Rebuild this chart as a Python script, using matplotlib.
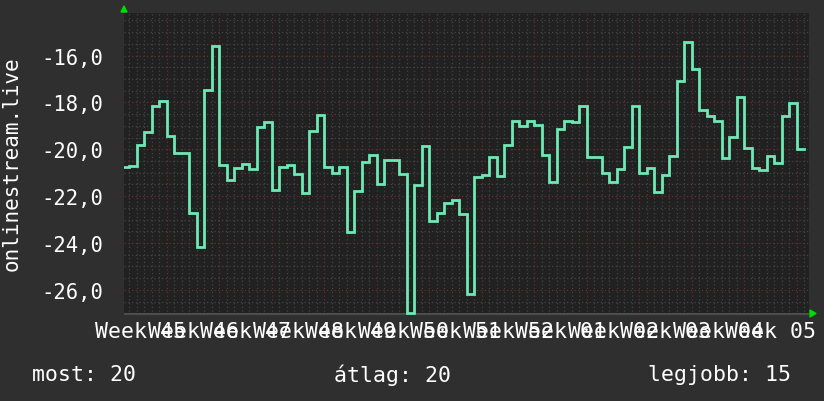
import matplotlib.pyplot as plt
import numpy as np

# daily values, day 0 = start of week 46 (first red grid line)
first_day = -6
values = [
    -20.77, -20.73, -19.83, -19.27, -18.14, -17.95,
    -19.42, -20.17, -20.14, -22.73, -24.16, -17.48, -15.60,
    -20.68, -21.30, -20.80, -20.64, -20.85, -19.06, -18.85,
    -21.72, -20.75, -20.68, -21.07, -21.88, -19.23, -18.52,
    -20.75, -21.02, -20.75, -23.52, -21.79, -20.56, -20.23,
    -21.49, -20.47, -20.47, -21.07, -27.00, -21.54, -19.87,
    -23.05, -22.73, -22.31, -22.18, -22.76, -26.16, -21.18,
    -21.11, -20.34, -21.15, -19.83, -18.80, -19.02, -18.80,
    -18.98, -20.23, -21.38, -19.15, -18.80, -18.85, -18.16,
    -20.34, -20.34, -21.02, -21.41, -20.85, -19.90, -18.14,
    -21.00, -20.80, -21.84, -21.11, -20.30, -17.10, -15.43,
    -16.57, -18.31, -18.59, -18.80, -20.38, -19.49, -17.75,
    -19.96, -20.81, -20.90, -20.30, -20.60, -18.56, -18.04,
    -20.00,
]
week_labels = ['Week 45', 'Week 46', 'Week 47', 'Week 48', 'Week 49',
               'Week 50', 'Week 51', 'Week 52', 'Week 01', 'Week 02',
               'Week 03', 'Week 04', 'Week 05']
y_ticks = [-26, -24, -22, -20, -18, -16]
footer = ['most: 20', 'átlag: 20', 'legjobb: 15']

BG = '#2f2f2f'
PLOT_BG = '#212121'
LINE = '#6ee8b4'

plt.rcParams['font.family'] = ['DejaVu Sans Mono']
fig = plt.figure(figsize=(8.24, 4.02), dpi=100, facecolor=BG)
ax = fig.add_axes([124 / 824, 1 - 315.5 / 402, 685 / 824, 301.5 / 402])
ax.set_facecolor(PLOT_BG)

# step line, value held for each day
days = np.arange(first_day, first_day + len(values) + 1)
ys = values + [values[-1]]
ax.step(days, ys, where='post', color=LINE, lw=2.0, zorder=3,
        solid_joinstyle='miter')

ax.set_xlim(-5.73, 85.6)
ax.set_ylim(-27.05, -14.18)

# grid: days / half units gray, weeks / 2 units red
ax.set_xticks(np.arange(0, 85, 7))
ax.set_xticks(np.arange(-5, 86, 1), minor=True)
ax.set_yticks(y_ticks)
ax.set_yticks(np.arange(-27, -14, 0.5), minor=True)
ax.grid(which='minor', color='#444444', lw=0.9, ls=(0, (1, 2)), zorder=1)
ax.grid(which='major', color='#663030', lw=0.9, ls=(0, (1, 2)), zorder=2)
ax.set_axisbelow(True)

ax.tick_params(which='both', length=0, colors='white')
ax.set_xticklabels([])
ax.set_yticklabels([('%.1f' % v).replace('.', ',') for v in y_ticks],
                   fontsize=14.8)
ax.tick_params(axis='y', pad=15)

for s in ax.spines.values():
    s.set_visible(False)
ax.axhline(-27.05, color='#555555', lw=1.2, zorder=2)

# week labels centered in each week
for i, lbl in enumerate(week_labels):
    ax.text(-3.5 + 7 * i, -0.022, lbl, transform=ax.get_xaxis_transform(),
            ha='center', va='top', color='white', fontsize=15.5)

fig.text(12 / 824, 1 - 164 / 402, 'onlinestream.live', rotation=90,
         ha='center', va='center', color='white', fontsize=15)

# arrows at axis ends
fig.patches.append(plt.Polygon([[121 / 824, 1 - 13 / 402], [127 / 824, 1 - 13 / 402],
                                [124 / 824, 1 - 7 / 402]], closed=True,
                               color='#00dd00', transform=fig.transFigure))
fig.patches.append(plt.Polygon([[810 / 824, 1 - 311 / 402], [810 / 824, 1 - 318 / 402],
                                [816 / 824, 1 - 314.5 / 402]], closed=True,
                               color='#00dd00', transform=fig.transFigure))

fig.text(32 / 824, 1 - 375 / 402, footer[0], ha='left', va='center',
         color='white', fontsize=15.5)
fig.text(334 / 824, 1 - 375 / 402, footer[1], ha='left', va='center',
         color='white', fontsize=15.5)
fig.text(791 / 824, 1 - 375 / 402, footer[2], ha='right', va='center',
         color='white', fontsize=15.5)

fig.savefig('out.png', dpi=100, facecolor=BG)
